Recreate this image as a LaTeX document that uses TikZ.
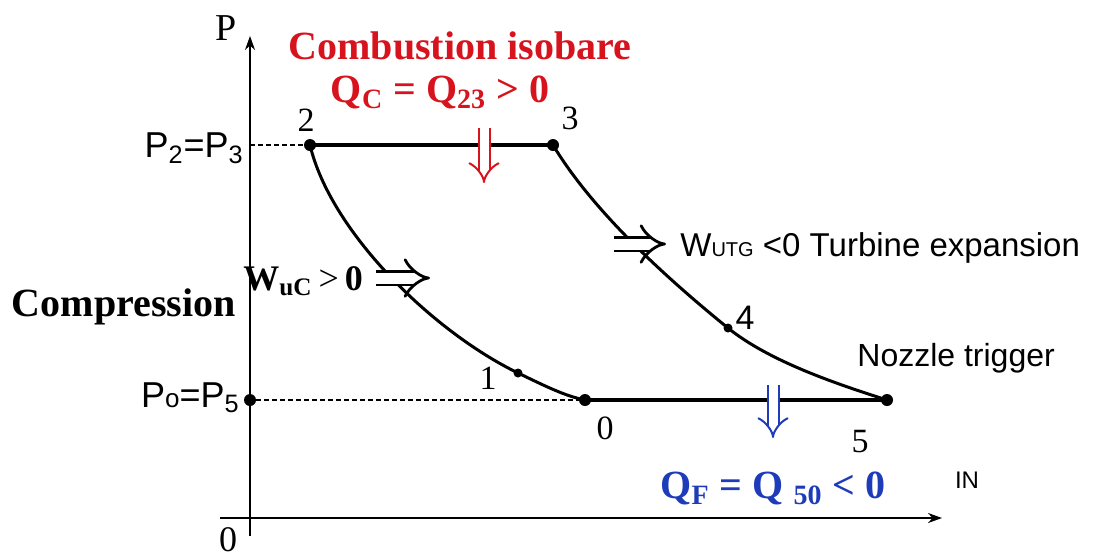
\documentclass[tikz,border=0pt]{standalone}
\usepackage{fontspec}
\setmainfont{Liberation Serif}
\setsansfont{Liberation Sans}
\usetikzlibrary{positioning,arrows.meta}

\definecolor{combred}{RGB}{215,20,30}
\definecolor{coolblue}{RGB}{30,60,185}
\newcommand{\fsz}[1]{\fontsize{#1}{#1}\selectfont}

\begin{document}
\begin{tikzpicture}[
			x=0.5pt, y=-0.5pt,
			every node/.style={inner sep=1pt},
			axis/.style={line width=0.8pt, -{Stealth[length=7pt,width=5pt]}},
			isobar/.style={line width=2pt},
			stroke/.style={line width=1.5pt},
			guide/.style={line width=0.6pt, dash pattern=on 2.5pt off 1.5pt},
			heat/.style={double, double distance=4.5pt, line width=1pt,
					-{Implies[length=7pt,width=15pt]}},
			work/.style={double, double distance=5.5pt, line width=1.4pt,
					-{Implies[length=8pt,width=20pt]}},
			dot/.style={circle, fill, inner sep=0pt, minimum size=6pt},
			smalldot/.style={circle, fill, inner sep=0pt, minimum size=4.5pt},
			num/.style={font=\fsz{17}},
			lab/.style={font=\sffamily\fsz{18}}
		]

		\useasboundingbox (0,0) rectangle (1098,559);

		\coordinate (ybot) at (250,536);
		\coordinate (ytop) at (250,36);
		\coordinate (xleft) at (220,518);
		\coordinate (xright) at (942,518);
		\coordinate (pb) at (250,145);

		\draw[axis] (ybot) -- (ytop);
		\draw[axis] (xleft) -- (xright);

		\node[dot] (p2) at (310,145) {};
		\node[dot] (p3) at (553,145) {};
		\node[dot] (p0) at (585,400) {};
		\node[dot] (p5) at (887,400) {};
		\node[smalldot] (p1) at (518,373) {};
		\node[smalldot] (p4) at (728,328) {};
		\node[dot] (pa) at (250,400) {};

		\draw[guide] (pb) -- (p2);
		\draw[guide] (pa) -- (p0);

		\draw[isobar] (p2.center) -- (p3.center);
		\draw[isobar] (p0.center) -- (p5.center);
		\draw[stroke] (p2.center) .. controls (330,230) and (430,330) .. (p1.center)
			.. controls (545,386) and (565,396) .. (p0.center);
		\draw[stroke] (p3.center) .. controls (595,215) and (675,285) .. (p4.center)
			.. controls (770,362) and (840,385) .. (p5.center);

		\coordinate (qcA) at (484,128);
		\coordinate (qcB) at (484,183);
		\coordinate (qfA) at (773,385);
		\coordinate (qfB) at (773,438);
		\coordinate (wcA) at (376,278);
		\coordinate (wcB) at (430,278);
		\coordinate (wtA) at (614,244);
		\coordinate (wtB) at (666,244);

		\draw[heat, combred] (qcA) -- (qcB);
		\draw[heat, coolblue] (qfA) -- (qfB);
		\draw[work] (wcA) -- (wcB);
		\draw[work] (wtA) -- (wtB);

		\node[font=\fsz{19}] (plab) at (226,28) {P};
		\node[text=combred, font=\bfseries\fsz{20}] (comb) at (460,46)
		{Combustion isobare};
		\node[text=combred, font=\bfseries\fsz{20}] (qc) at (440,92)
		{Q\textsubscript{C} = Q\textsubscript{23} > 0};

		\node[num] (n2) at (306,120) {2};
		\node[num] (n3) at (570,118) {3};
		\node[num] (n1) at (488,378) {1};
		\node[font=\sffamily\fsz{17}] (n4) at (745,318) {4};
		\node[num] (n0) at (605,428) {0};
		\node[num] (n5) at (860,442) {5};

		\node[lab, anchor=east] (p23) at (246,148) {P\textsubscript{2}=P\textsubscript{3}};
		\node[lab, anchor=east] (p05) at (242,398) {P{\fsz{13}o}=P\textsubscript{5}};

		\node[font=\bfseries\fsz{20}, anchor=east] (comp) at (238,307) {Compression};
		\node[font=\fsz{18}, anchor=west] (wuc) at (241,281)
		{\textbf{W\textsubscript{uC}}\,>\,\textbf{0}};

		\node[font=\sffamily\fsz{16.5}, anchor=west] (wutg) at (678,248)
		{W{\fsz{10}UTG} <0 Turbine expansion};
		\node[font=\sffamily\fsz{16}, anchor=west] (nozz) at (855,358) {Nozzle trigger};

		\node[text=coolblue, font=\bfseries\fsz{20}] (qf) at (773,488)
		{Q\textsubscript{F} = Q \textsubscript{50} < 0};
		\node[font=\sffamily\fsz{12}] (inlab) at (967,480) {IN};
		\node[font=\fsz{18}] (olab) at (228,540) {0};

	\end{tikzpicture}
\end{document}
